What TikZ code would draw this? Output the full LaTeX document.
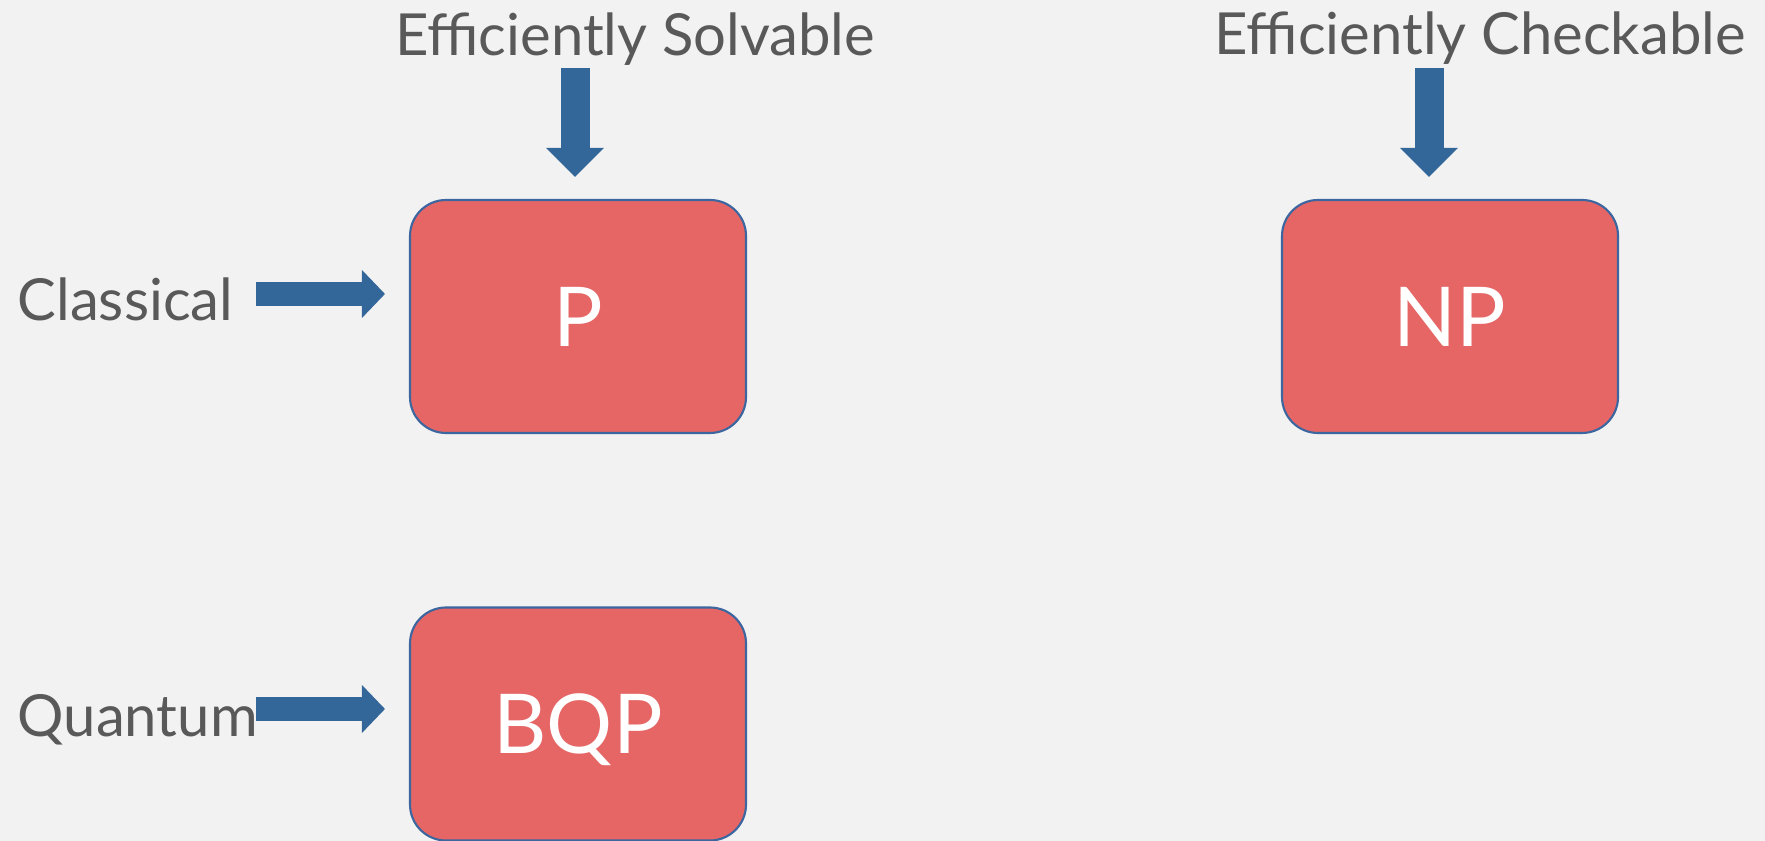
\documentclass[tikz,border=0pt]{standalone}
\usepackage{fontspec}
\setmainfont{Lato}
\usetikzlibrary{arrows.meta,positioning}

\definecolor{bgcol}{HTML}{F2F2F2}
\definecolor{boxred}{HTML}{E66565}
\definecolor{boxline}{HTML}{3B66A0}
\definecolor{arrowblue}{HTML}{336699}
\definecolor{textgray}{HTML}{595959}

\begin{document}
\begin{tikzpicture}[
    cls/.style={draw=boxline, line width=0.6pt, fill=boxred, rounded corners=0.36cm, minimum width=3.36cm, minimum height=2.33cm, text=white, text depth=0pt, font=\fontsize{23.5}{28}\selectfont},
    lbl/.style={text=textgray, inner sep=0pt, font=\fontsize{16.5}{20}\selectfont},
    harrow/.style={arrowblue, line width=0.24cm, -{Triangle[width=0.48cm, length=0.23cm, line width=0pt]}},
    varrow/.style={arrowblue, line width=0.29cm, -{Triangle[width=0.58cm, length=0.29cm, line width=0pt]}}
]

% Background
\path[use as bounding box, fill=bgcol] (0,0) rectangle (17.65,8.41);

% Complexity classes
\node[cls] (P) at (5.78,5.245) {P};
\node[cls] (NP) at (14.50,5.245) {NP};
\node[cls] (BQP) at (5.78,1.17) {BQP};

% Labels
\node[lbl, anchor=base] (solvable) at (6.35,7.85) {Efficiently Solvable};
\node[lbl, anchor=base] (checkable) at (14.80,7.86) {Efficiently Checkable};
\node[lbl, anchor=base west] (classical) at (0.17,5.20) {Classical};
\node[lbl, anchor=base west] (quantum) at (0.17,1.04) {Quantum};

% Block arrows
\coordinate (solvin) at (5.75,7.73);
\coordinate (checkin) at (14.29,7.73);
\coordinate (classin) at (2.56,5.47);
\coordinate (quantin) at (2.56,1.32);

\draw[varrow, shorten >=0.22cm] (solvin) -- (solvin |- P.north);
\draw[varrow, shorten >=0.22cm] (checkin) -- (checkin |- NP.north);
\draw[harrow, shorten >=0.24cm] (classin) -- (classin -| P.west);
\draw[harrow, shorten >=0.24cm] (quantin) -- (quantin -| BQP.west);

\end{tikzpicture}
\end{document}
